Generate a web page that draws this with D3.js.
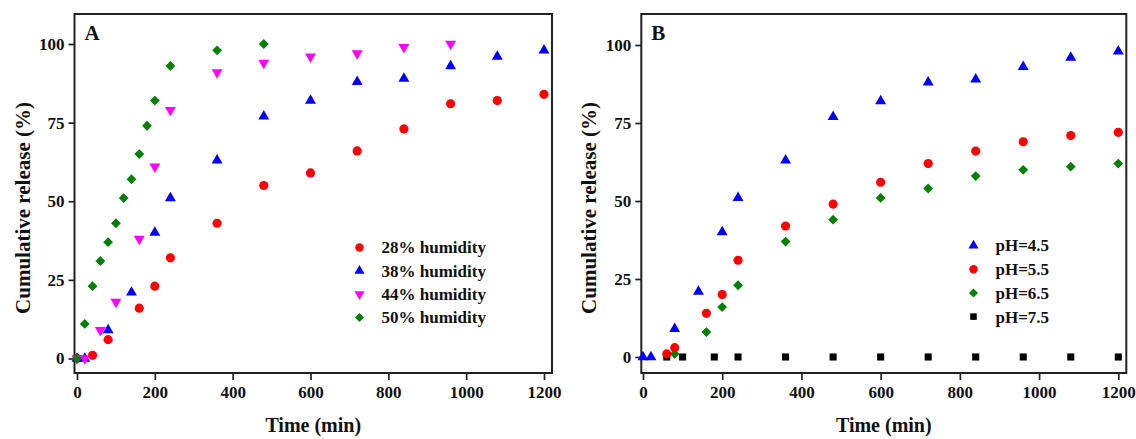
<!DOCTYPE html>
<html>
<head>
<meta charset="utf-8">
<script src="https://cdn.jsdelivr.net/npm/d3@7"></script>
<style>
  html, body { margin: 0; padding: 0; background: #fff; }
  svg { display: block; }
  text { font-family: "Liberation Serif", "Times New Roman", serif; font-weight: bold; fill: #111; }
</style>
</head>
<body>
<svg id="chart" width="1136" height="439"></svg>
<script>
// ---------------- DATA ----------------
const xTicks = [0, 200, 400, 600, 800, 1000, 1200];
const yTicks = [0, 25, 50, 75, 100];

// Panel A: humidity
const hum28T = [0, 40, 80, 160, 200, 240, 360, 480, 600, 720, 840, 960, 1080, 1200];
const hum28V = [0, 1, 6, 16, 23, 32, 43, 55, 59, 66, 73, 81, 82, 84];
const hum38T = [0, 20, 80, 140, 200, 240, 360, 480, 600, 720, 840, 960, 1080, 1200];
const hum38V = [0, 0, 9, 21, 40, 51, 63, 77, 82, 88, 89, 93, 96, 98];
const hum44T = [0, 20, 60, 100, 160, 200, 240, 360, 480, 600, 720, 840, 960];
const hum44V = [0, 0, 9, 18, 38, 61, 79, 91, 94, 96, 97, 99, 100];
const hum50T = [0, 20, 40, 60, 80, 100, 120, 140, 160, 180, 200, 240, 360, 480];
const hum50V = [0, 11, 23, 31, 37, 43, 51, 57, 65, 74, 82, 93, 98, 100];

// Panel B: pH
const ph45T = [0, 20, 80, 140, 200, 240, 360, 480, 600, 720, 840, 960, 1080, 1200];
const ph45V = [0, 0, 9, 21, 40, 51, 63, 77, 82, 88, 89, 93, 96, 98];
const ph55T = [60, 80, 160, 200, 240, 360, 480, 600, 720, 840, 960, 1080, 1200];
const ph55V = [1, 3, 14, 20, 31, 42, 49, 56, 62, 66, 69, 71, 72];
const ph65T = [80, 160, 200, 240, 360, 480, 600, 720, 840, 960, 1080, 1200];
const ph65V = [1, 8, 16, 23, 37, 44, 51, 54, 58, 60, 61, 62];
const ph75T = [60, 100, 180, 240, 360, 480, 600, 720, 840, 960, 1080, 1200];
const ph75V = [0, 0, 0, 0, 0, 0, 0, 0, 0, 0, 0, 0];

const labelsA = ["28% humidity", "38% humidity", "44% humidity", "50% humidity"];
const labelsB = ["pH=4.5", "pH=5.5", "pH=6.5", "pH=7.5"];

// ---------------- STYLE ----------------
const C = { red: "#ff0000", blue: "#0000ff", magenta: "#ff00ff", green: "#008000", black: "#000000" };
const shapes = {
  circle:  { type: d3.symbolCircle,   size: 66, rot: 0 },
  tri:     { type: d3.symbolTriangle, size: 52, rot: 0 },
  triDown: { type: d3.symbolTriangle, size: 52, rot: 180 },
  diamond: { type: d3.symbolSquare,   size: 48, rot: 45 },
  square:  { type: d3.symbolSquare,   size: 50, rot: 0 }
};

const svg = d3.select("#chart");

function zip(t, v) { return t.map((d, i) => ({ t: d, v: v[i] })); }

function panel(cfg) {
  const g = svg.append("g");
  const x = d3.scaleLinear().domain([0, 1200]).range([cfg.x0, cfg.x1200]);
  const y = d3.scaleLinear().domain([0, 100]).range([cfg.y0, cfg.y100]);

  // axes
  const ax = g.append("g").attr("transform", `translate(0,${cfg.bottom})`)
    .call(d3.axisBottom(x).tickValues(xTicks).tickFormat(d3.format("d")).tickSize(7).tickSizeOuter(0).tickPadding(6));
  const ay = g.append("g").attr("transform", `translate(${cfg.left},0)`)
    .call(d3.axisLeft(y).tickValues(yTicks).tickSize(6).tickSizeOuter(0).tickPadding(4));
  [ax, ay].forEach(a => {
    a.select(".domain").remove();
    a.selectAll("line").attr("stroke", "#222").attr("stroke-width", 1.7);
    a.selectAll("text").style("font-size", "17px").attr("fill", "#111");
  });

  // frame
  g.append("rect").attr("x", cfg.left).attr("y", cfg.top)
    .attr("width", cfg.right - cfg.left).attr("height", cfg.bottom - cfg.top)
    .attr("fill", "none").attr("stroke", "#222").attr("stroke-width", 2);

  // series
  cfg.series.forEach(s => {
    const sh = shapes[s.shape];
    const sym = d3.symbol().type(sh.type).size(sh.size);
    g.append("g").selectAll("path").data(zip(s.t, s.v)).join("path")
      .attr("d", sym)
      .attr("transform", d => `translate(${x(d.t)},${y(d.v)}) rotate(${sh.rot})`)
      .attr("fill", s.color);
  });

  // legend
  const lg = g.append("g");
  cfg.legend.forEach((s, i) => {
    const sh = shapes[s.shape];
    const yy = cfg.legY + i * cfg.legDy;
    lg.append("path").attr("d", d3.symbol().type(sh.type).size(sh.size * 0.85)())
      .attr("transform", `translate(${cfg.legX},${yy}) rotate(${sh.rot})`)
      .attr("fill", s.color);
    lg.append("text").attr("x", cfg.legX + 22).attr("y", yy).attr("dy", "0.35em")
      .style("font-size", "17px").text(s.label);
  });

  // panel letter
  g.append("text").attr("x", cfg.left + 10).attr("y", cfg.top + 26)
    .style("font-size", "21px").text(cfg.letter);

  // axis titles
  g.append("text").attr("x", (cfg.left + cfg.right) / 2).attr("y", 432)
    .attr("text-anchor", "middle").style("font-size", "20px").text("Time (min)");
  g.append("text").attr("transform", `translate(${cfg.left - 45},208) rotate(-90)`)
    .attr("text-anchor", "middle").style("font-size", "21px").text("Cumulative release (%)");
}

panel({
  letter: "A", left: 74.5, right: 552, top: 14, bottom: 373,
  x0: 77, x1200: 544, y0: 358.5, y100: 44,
  series: [
    { t: hum28T, v: hum28V, color: C.red, shape: "circle" },
    { t: hum38T, v: hum38V, color: C.blue, shape: "tri" },
    { t: hum44T, v: hum44V, color: C.magenta, shape: "triDown" },
    { t: hum50T, v: hum50V, color: C.green, shape: "diamond" }
  ],
  legend: [
    { label: labelsA[0], color: C.red, shape: "circle" },
    { label: labelsA[1], color: C.blue, shape: "tri" },
    { label: labelsA[2], color: C.magenta, shape: "triDown" },
    { label: labelsA[3], color: C.green, shape: "diamond" }
  ],
  legX: 359.5, legY: 247.5, legDy: 23.3
});

panel({
  letter: "B", left: 641.3, right: 1126.3, top: 14, bottom: 373,
  x0: 643, x1200: 1118.3, y0: 357, y100: 45,
  series: [
    { t: ph75T, v: ph75V, color: C.black, shape: "square" },
    { t: ph65T, v: ph65V, color: C.green, shape: "diamond" },
    { t: ph55T, v: ph55V, color: C.red, shape: "circle" },
    { t: ph45T, v: ph45V, color: C.blue, shape: "tri" }
  ],
  legend: [
    { label: labelsB[0], color: C.blue, shape: "tri" },
    { label: labelsB[1], color: C.red, shape: "circle" },
    { label: labelsB[2], color: C.green, shape: "diamond" },
    { label: labelsB[3], color: C.black, shape: "square" }
  ],
  legX: 973.5, legY: 245.5, legDy: 23.7
});
</script>
</body>
</html>
